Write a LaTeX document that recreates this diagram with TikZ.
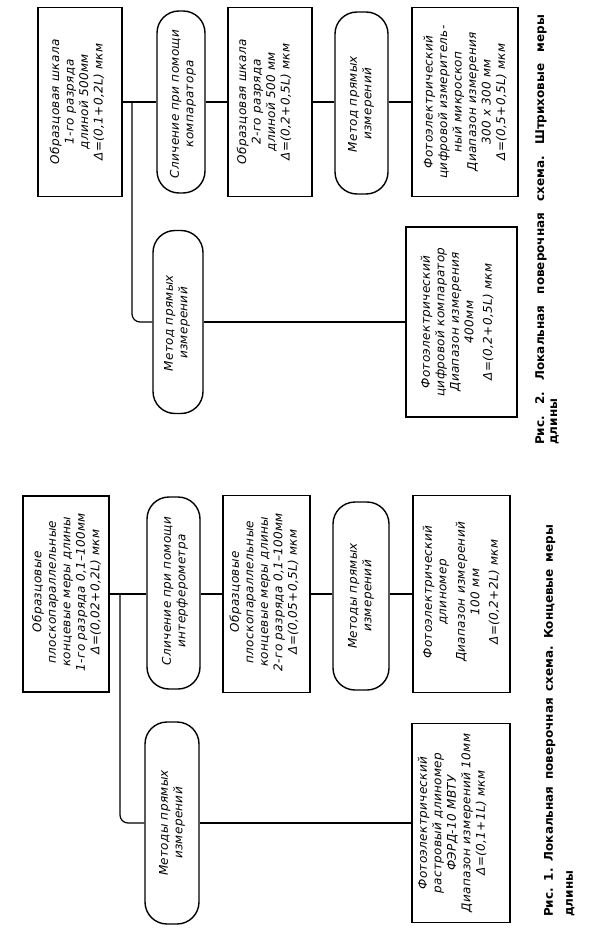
\documentclass[tikz,border=0pt]{standalone}
\usepackage{fontspec}
\newfontfamily\gost[LetterSpace=3]{DejaVu Sans}
\newfontfamily\capfont{DejaVu Sans}
\frenchspacing
\begin{document}
\begin{tikzpicture}[x=1pt,y=-1pt,
  boxst/.style={draw,line width=1.4pt,inner sep=0pt,rectangle},
  stad/.style={draw,line width=1.4pt,inner sep=0pt,rectangle,rounded corners=22pt},
  txt/.style={rotate=90,align=center,inner sep=0pt,font=\gost\itshape\fontsize{12}{14.5}\selectfont},
  conn/.style={line width=1.2pt},
  captxt/.style={rotate=90,align=left,inner sep=0pt,anchor=north west,font=\capfont\bfseries\fontsize{12}{20}\selectfont}]
\path[use as bounding box,fill=white] (0,0) rectangle (590,933);

% ---------- Fig. 2 (top) ----------
\node[boxst,minimum width=84pt,minimum height=189pt] (A) at (80,102) {};
\node[stad,minimum width=48pt,minimum height=182pt] (S1) at (181,102) {};
\node[boxst,minimum width=84pt,minimum height=189pt] (B) at (270,102) {};
\node[stad,minimum width=53pt,minimum height=182pt] (S2) at (361.5,103) {};
\node[boxst,minimum width=106pt,minimum height=189pt] (C) at (465,102) {};
\node[stad,minimum width=50pt,minimum height=183pt] (S3) at (178,322) {};
\node[boxst,minimum width=111pt,minimum height=190pt] (D) at (461.5,322) {};
\coordinate (j2) at (132,102);

\node[txt] (At) at (77,102) {Образцовая шкала\\1-го разряда\\длиной 500мм\\Δ=(0,1+0,2L) мкм};
\node[txt] (S1t) at (183,104) {Сличение при помощи\\компаратора};
\node[txt] (Bt) at (264,102) {Образцовая шкала\\2-го разряда\\длиной 500 мм\\Δ=(0,2+0,5L) мкм};
\node[txt] (S2t) at (361,104) {Метод прямых\\измерений};
\node[txt] (Ct) at (465,102) {Фотоэлектрический\\цифровой измеритель-\\ный микроскоп\\Диапазон измерения\\300 x 300 мм\\Δ=(0,5+0,5L) мкм};
\node[txt] (S3t) at (177,323) {Метод прямых\\измерений};
\node[txt] (Dt) at (457,322) {Фотоэлектрический\\цифровой компаратор\\Диапазон измерения\\400мм\\[4pt]Δ=(0,2+0,5L) мкм};

\draw[conn] (A.east) -- (S1.west |- A.east);
\draw[conn] (S1.east |- A.east) -- (B.west);
\draw[conn] (B.east) -- (S2.west |- B.east);
\draw[conn] (S2.east |- B.east) -- (C.west);
\draw[conn,rounded corners=8pt] (j2) |- (S3.west);
\draw[conn] (S3.east) -- (D.west);

\node[captxt] (cap2) at (535,445) {\makebox[430pt][s]{Рис. 2. Локальная поверочная схема. Штриховые меры}\\[-7pt]длины};

% ---------- Fig. 1 (bottom) ----------
\node[boxst,minimum width=86pt,minimum height=196pt] (b1) at (66,594) {};
\node[stad,minimum width=53pt,minimum height=192pt] (s1) at (173.5,593) {};
\node[boxst,minimum width=87pt,minimum height=197pt] (b2) at (266.5,594) {};
\node[stad,minimum width=56pt,minimum height=188pt] (s2) at (361,596) {};
\node[boxst,minimum width=97pt,minimum height=197pt] (b3) at (461.5,594) {};
\node[stad,minimum width=54pt,minimum height=202pt] (s3) at (172,823) {};
\node[boxst,minimum width=98pt,minimum height=199pt] (b4) at (461,823) {};
\coordinate (j1) at (120,594);

\node[txt] (b1t) at (66.5,592) {Образцовые\\плоскопараллельные\\концевые меры длины\\1-го разряда 0,1–100мм\\Δ=(0,02+0,2L) мкм};
\node[txt] (s1t) at (175,591) {Сличение при помощи\\интерферометра};
\node[txt] (b2t) at (264,592) {Образцовые\\плоскопараллельные\\концевые меры длины\\2-го разряда 0,1–100мм\\Δ=(0,05+0,5L) мкм};
\node[txt] (s2t) at (361,596) {Методы прямых\\измерений};
\node[txt] (b3t) at (461,592) {Фотоэлектрический\\длиномер\\[4pt]Диапазон измерений\\100 мм\\[4pt]Δ=(0,2+2L) мкм};
\node[txt] (s3t) at (172,823) {Методы прямых\\измерений};
\node[txt] (b4t) at (452,823) {Фотоэлектрический\\растровый длиномер\\ФЭРД-10 МВТУ\\Диапазон измерений 10мм\\Δ=(0,1+1L) мкм};

\draw[conn] (b1.east) -- (s1.west |- b1.east);
\draw[conn] (s1.east |- b1.east) -- (b2.west);
\draw[conn] (b2.east) -- (s2.west |- b2.east);
\draw[conn] (s2.east |- b2.east) -- (b3.west);
\draw[conn,rounded corners=8pt] (j1) |- (s3.west);
\draw[conn] (s3.east) -- (b4.west);

\node[captxt] (cap1) at (544,917) {\makebox[392pt][s]{Рис. 1. Локальная поверочная схема. Концевые меры}\\длины};
\end{tikzpicture}
\end{document}
